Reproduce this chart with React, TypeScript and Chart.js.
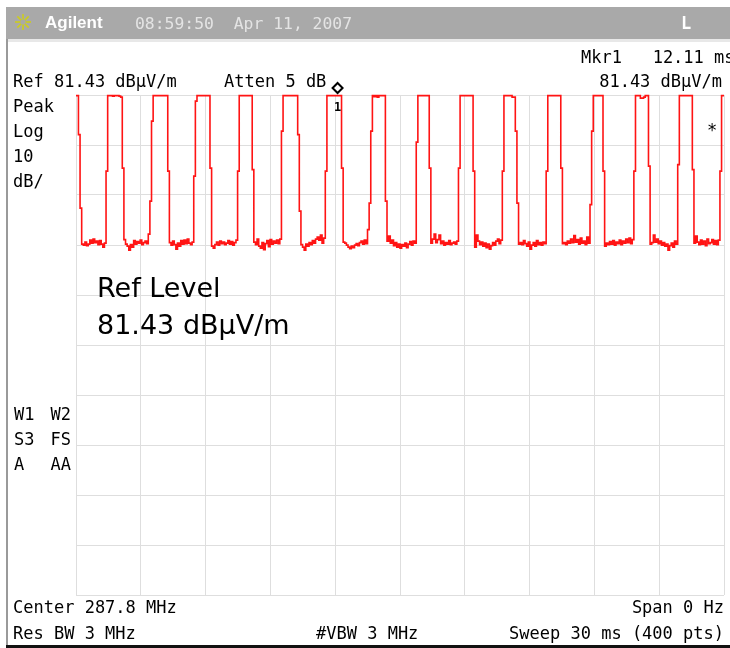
import { useEffect, useRef } from 'react';
import { Chart, registerables } from 'chart.js';

Chart.register(...registerables);

// Sweep: 30 ms, 400 points (zero span, peak detector), level in dBμV/m
const SWEEP_MS = 30;
const TRACE: number[] = [
  // 0-3
  81.3, 81.3, 73.5, 58.8,
  // 4-18
  51.6, 51.4, 52.0, 51.3, 51.6, 52.4, 51.8, 52.6, 51.9, 52.2, 51.5, 52.3, 51.6, 51.0, 51.8,
  // 19
  66.2,
  // 20-28
  81.3, 81.3, 81.3, 81.2, 81.3, 81.3, 81.3, 81.2, 81.0,
  // 29
  66.8,
  // 30-45
  52.5, 51.6, 51.2, 50.4, 51.5, 51.0, 52.3, 51.6, 52.1, 51.8, 52.4, 51.5, 51.9, 52.2, 51.7, 53.6,
  // 46-47
  60.2, 76.2,
  // 48-56
  81.3, 81.3, 81.3, 81.3, 81.3, 81.3, 81.3, 81.3, 81.3,
  // 57
  66.2,
  // 58-72
  51.9, 51.4, 52.2, 51.5, 50.6, 51.8, 51.2, 52.3, 51.6, 52.4, 51.7, 52.6, 51.8, 51.5, 52.0,
  // 73-74
  65.2, 80.2,
  // 75-82
  81.3, 81.3, 81.3, 81.3, 81.3, 81.3, 81.3, 81.3,
  // 83
  66.8,
  // 84-99
  51.2, 50.8, 51.5, 52.0, 51.4, 52.2, 51.7, 52.0, 51.5, 51.8, 52.3, 51.6, 52.1, 51.4, 51.9, 52.4,
  // 100
  66.2,
  // 101-108
  81.3, 81.3, 81.3, 81.3, 81.3, 81.3, 81.3, 81.3,
  // 109
  66.5,
  // 110-126
  52.0, 51.5, 52.6, 51.2, 50.8, 51.9, 50.5, 51.7, 52.3, 51.1, 52.5, 51.6, 52.2, 51.8, 52.4, 51.7, 52.6,
  // 127
  74.2,
  // 128-136
  81.3, 81.3, 81.3, 81.3, 81.3, 81.3, 81.3, 81.3, 81.3,
  // 137-138
  73.5, 58.2,
  // 139-153
  51.5, 51.0, 50.4, 51.6, 51.2, 51.9, 51.5, 52.3, 51.8, 52.6, 53.0, 52.4, 53.4, 51.8, 52.8,
  // 154
  66.2,
  // 155-163
  81.3, 81.3, 81.3, 81.3, 81.3, 81.3, 81.3, 81.3, 81.3,
  // 164
  66.8,
  // 165-179
  52.0, 51.8, 51.4, 51.0, 50.7, 51.2, 50.9, 51.4, 51.7, 51.3, 51.9, 52.2, 51.6, 52.4, 51.7,
  // 180-182
  54.5, 59.8, 74.2,
  // 183-190
  81.3, 81.1, 81.3, 81.0, 81.3, 81.3, 81.3, 81.3,
  // 191
  60.2,
  // 192-209
  52.2, 53.2, 51.8, 52.4, 51.3, 51.9, 51.0, 51.6, 50.8, 51.5, 51.2, 51.8, 50.9, 51.6, 52.1, 51.4, 52.2, 51.8,
  // 210
  72.0,
  // 211-217
  81.3, 81.3, 81.3, 81.3, 81.3, 81.3, 81.3,
  // 218
  66.8,
  // 219-235
  51.8, 52.6, 53.6, 51.9, 52.5, 53.4, 51.7, 52.2, 51.4, 51.9, 51.6, 52.3, 51.5, 51.8, 52.0, 51.6, 52.2,
  // 236
  66.8,
  // 237-244
  81.3, 81.3, 81.3, 81.3, 81.3, 81.3, 81.3, 81.3,
  // 245
  66.2,
  // 246-262
  51.0, 53.4, 52.2, 51.5, 52.0, 51.2, 51.8, 50.9, 51.6, 50.6, 51.3, 51.9, 51.4, 52.2, 52.6, 51.7, 52.4,
  // 263
  66.2,
  // 264-270
  81.3, 81.3, 81.3, 81.3, 81.3, 81.0, 81.0,
  // 271-272
  74.2, 59.8,
  // 273-289
  51.6, 51.9, 51.5, 52.3, 51.7, 51.2, 52.0, 50.6, 51.4, 51.9, 51.2, 52.3, 51.5, 51.9, 51.4, 52.0, 51.7,
  // 290
  66.2,
  // 291-298
  81.3, 81.3, 81.3, 81.3, 81.3, 81.3, 81.3, 81.3,
  // 299
  66.8,
  // 300-316
  51.7, 51.9, 51.5, 52.2, 51.8, 52.6, 51.9, 53.3, 52.0, 52.5, 51.6, 52.8, 51.8, 52.2, 51.5, 53.0, 51.8,
  // 317-318
  59.5, 74.2,
  // 319-324
  81.3, 81.3, 81.3, 81.3, 81.3, 81.3,
  // 325
  66.2,
  // 326-343
  51.2, 51.8, 51.5, 52.1, 51.6, 52.3, 51.4, 52.0, 51.7, 52.4, 51.5, 52.2, 51.8, 52.6, 51.9, 52.8, 51.7, 52.5,
  // 344
  66.2,
  // 345-352
  81.3, 81.3, 81.3, 80.8, 80.8, 81.0, 81.3, 81.3,
  // 353
  67.2,
  // 354-370
  51.6, 51.9, 53.4, 52.0, 52.6, 51.7, 52.2, 51.4, 51.9, 51.2, 51.6, 50.4, 51.3, 51.8, 51.0, 52.2, 51.6,
  // 371
  67.5,
  // 372-379
  81.3, 81.3, 81.3, 81.3, 81.3, 81.3, 81.3, 81.3,
  // 380
  66.5,
  // 381-396
  51.8, 53.2, 52.0, 51.5, 52.4, 51.6, 52.2, 51.3, 52.6, 51.7, 51.9, 52.5, 51.6, 52.3, 51.5, 52.4,
  // 397
  66.2,
  // 398-399
  81.3, 81.3,
];

// Grid: 10 divisions each axis, ref level 81.43 dBμV/m at top, 10 dB/div
const X_GRID = [0, 3, 6, 9, 12, 15, 18, 21, 24, 27, 30];
const Y_GRID = [81.43, 71.43, 61.43, 51.43, 41.43, 31.43, 21.43, 11.43, 1.43, -8.57, -18.57];

const MARKER_MS = 12.11;
const MARKER_LEVEL = 81.43;

const MONO = '"DejaVu Sans Mono", monospace';

const overlay = {
  id: 'overlay',
  beforeDraw(chart: any) {
    const ctx = chart.ctx as CanvasRenderingContext2D;
    ctx.save();
    ctx.fillStyle = '#ffffff';
    ctx.fillRect(0, 0, chart.width, chart.height);
    // title bar
    ctx.fillStyle = '#a9a9a9';
    ctx.fillRect(6, 7, 724, 32);
    ctx.fillStyle = '#e8e8e8';
    ctx.fillRect(6, 39, 724, 3);
    // left border
    ctx.fillStyle = '#9a9a9a';
    ctx.fillRect(6, 39, 2, 609);
    // bottom black line
    ctx.fillStyle = '#111111';
    ctx.fillRect(6, 645, 724, 3);
    ctx.restore();
  },
  afterDraw(chart: any) {
    const ctx = chart.ctx as CanvasRenderingContext2D;
    const xs = chart.scales.x;
    const ys = chart.scales.y;
    ctx.save();

    // sun logo
    const cx = 23, cy = 22;
    ctx.strokeStyle = '#cdcd1e';
    ctx.lineWidth = 1.6;
    for (let k = 0; k < 8; k++) {
      const a = (k * Math.PI) / 4;
      ctx.beginPath();
      ctx.moveTo(cx + Math.cos(a) * 2.5, cy + Math.sin(a) * 2.5);
      ctx.lineTo(cx + Math.cos(a) * 8, cy + Math.sin(a) * 8);
      ctx.stroke();
    }

    ctx.fillStyle = '#ffffff';
    ctx.textAlign = 'left';
    ctx.textBaseline = 'alphabetic';
    ctx.font = 'bold 17px "Liberation Sans", Arial, sans-serif';
    ctx.fillText('Agilent', 45, 28);
    ctx.fillStyle = '#e4e4e4';
    ctx.font = `16.4px ${MONO}`;
    ctx.fillText('08:59:50  Apr 11, 2007', 135, 29);
    ctx.fillStyle = '#ffffff';
    ctx.font = `bold 17px ${MONO}`;
    ctx.fillText('L', 681, 29);

    ctx.fillStyle = '#000000';
    ctx.font = `17px ${MONO}`;
    ctx.fillText('Mkr1   12.11 ms', 581, 63);
    ctx.fillText('Ref 81.43 dBμV/m', 13, 87);
    ctx.fillText('Atten 5 dB', 224, 87);
    ctx.textAlign = 'right';
    ctx.fillText('81.43 dBμV/m', 722, 87);

    ctx.textAlign = 'left';
    ctx.fillText('Peak', 13, 112);
    ctx.fillText('Log', 13, 137);
    ctx.fillText('10', 13, 162);
    ctx.fillText('dB/', 13, 187);

    ctx.fillText('W1', 14, 420);
    ctx.fillText('S3', 14, 445);
    ctx.fillText('A', 14, 470);
    ctx.textAlign = 'right';
    ctx.fillText('W2', 71, 420);
    ctx.fillText('FS', 71, 445);
    ctx.fillText('AA', 71, 470);

    ctx.textAlign = 'left';
    ctx.fillText('Center 287.8 MHz', 13, 613);
    ctx.fillText('Res BW 3 MHz', 13, 639);
    ctx.fillText('#VBW 3 MHz', 316, 639);
    ctx.textAlign = 'right';
    ctx.fillText('Span 0 Hz', 724, 613);
    ctx.fillText('Sweep 30 ms (400 pts)', 724, 639);

    ctx.textAlign = 'center';
    ctx.fillText('*', 712, 136);

    // marker
    const mx = xs.getPixelForValue(MARKER_MS);
    const my = ys.getPixelForValue(MARKER_LEVEL) - 7;
    ctx.strokeStyle = '#000000';
    ctx.lineWidth = 2;
    ctx.beginPath();
    ctx.moveTo(mx, my - 5);
    ctx.lineTo(mx + 5, my);
    ctx.lineTo(mx, my + 5);
    ctx.lineTo(mx - 5, my);
    ctx.closePath();
    ctx.stroke();
    ctx.font = `bold 12px ${MONO}`;
    ctx.fillText('1', mx, my + 23);

    // Ref level annotation
    ctx.textAlign = 'left';
    ctx.font = '27px "DejaVu Sans", sans-serif';
    ctx.fillText('Ref Level', 97, 297);
    ctx.fillText('81.43 dBμV/m', 97, 334);

    ctx.restore();
  },
};

export default function App() {
  const ref = useRef<HTMLCanvasElement>(null);
  useEffect(() => {
    document.body.style.margin = '0';
    const n = TRACE.length;
    const chart = new Chart(ref.current!, {
      type: 'line',
      data: {
        datasets: [
          {
            data: TRACE.map((v, i) => ({ x: (i * SWEEP_MS) / (n - 1), y: v })),
            borderColor: '#ff1414',
            borderWidth: 1.6,
            pointRadius: 0,
            stepped: 'middle',
            clip: false as any,
          },
        ],
      },
      options: {
        animation: false,
        responsive: false,
        maintainAspectRatio: false,
        layout: { padding: { left: 76, right: 6, top: 95, bottom: 53 } },
        plugins: { legend: { display: false }, tooltip: { enabled: false } },
        scales: {
          x: {
            type: 'linear',
            min: 0,
            max: SWEEP_MS,
            afterBuildTicks: (axis: any) => {
              axis.ticks = X_GRID.map((v) => ({ value: v }));
            },
            ticks: { display: false },
            grid: { color: '#dedede', lineWidth: 1, drawTicks: false },
            border: { display: false },
          },
          y: {
            type: 'linear',
            min: Y_GRID[Y_GRID.length - 1],
            max: Y_GRID[0],
            afterBuildTicks: (axis: any) => {
              axis.ticks = Y_GRID.map((v) => ({ value: v }));
            },
            ticks: { display: false },
            grid: { color: '#dedede', lineWidth: 1, drawTicks: false },
            border: { display: false },
          },
        },
      },
      plugins: [overlay],
    } as any);
    return () => chart.destroy();
  }, []);
  return (
    <canvas
      ref={ref}
      width={730}
      height={648}
      style={{ display: 'block', width: 730, height: 648 }}
    />
  );
}
